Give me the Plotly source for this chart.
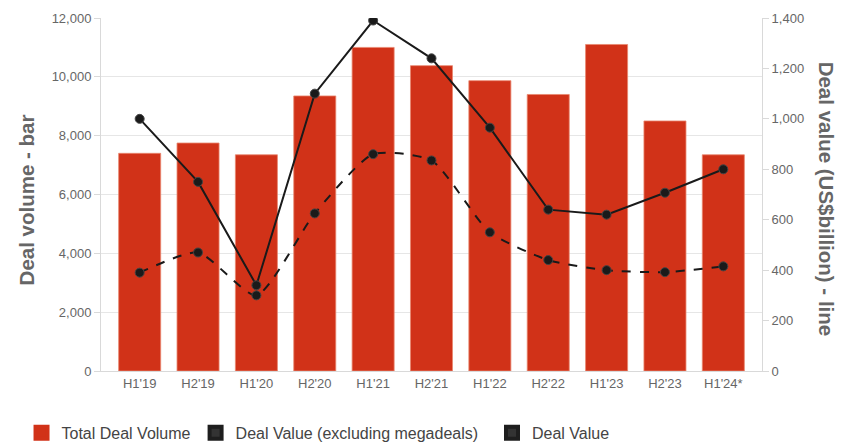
import plotly.graph_objects as go

# Half-year periods
periods = ["H1'19", "H2'19", "H1'20", "H2'20", "H1'21", "H2'21",
           "H1'22", "H2'22", "H1'23", "H2'23", "H1'24*"]

# Total deal volume (bars, left axis)
deal_volume = [7400, 7750, 7350, 9350, 11000, 10380, 9870, 9400, 11100, 8500, 7350]

# Deal value in US$ billion (lines, right axis)
deal_value = [1000, 750, 340, 1100, 1390, 1240, 965, 640, 620, 707, 800]
deal_value_ex_mega = [390, 470, 300, 625, 860, 835, 550, 440, 400, 392, 415]

red = "#d13218"
dark = "#1a1a1a"
grey = "#666666"

fig = go.Figure()

fig.add_bar(x=periods, y=deal_volume, name="Total Deal Volume",
            marker=dict(color=red, line=dict(color="#e8866f", width=0.8)),
            showlegend=False)

fig.add_scatter(x=periods, y=deal_value_ex_mega, yaxis="y2", mode="lines+markers",
                line=dict(color=dark, width=2, dash="dash", shape="spline", smoothing=0.6),
                marker=dict(color=dark, size=9, line=dict(color="#444444", width=1)),
                showlegend=False)

fig.add_scatter(x=periods, y=deal_value, yaxis="y2", mode="lines+markers",
                line=dict(color=dark, width=2),
                marker=dict(color=dark, size=9, line=dict(color="#444444", width=1)),
                showlegend=False)

# legend entries drawn as square patches
fig.add_bar(x=[periods[0]], y=[None], name="Total Deal Volume",
            marker=dict(color=red, line=dict(color=red, width=4)))
fig.add_bar(x=[periods[0]], y=[None], name="Deal Value (excluding megadeals)\u00a0\u00a0",
            marker=dict(color="#333333", line=dict(color="#1e1e1e", width=4)))
fig.add_bar(x=[periods[0]], y=[None], name="Deal Value",
            marker=dict(color="#333333", line=dict(color="#1e1e1e", width=4)))

# page body adds an 8px offset, so the figure is sized 8px smaller
fig.update_layout(
    width=856, height=439,
    margin=dict(l=93, r=102, t=10, b=76),
    paper_bgcolor="white", plot_bgcolor="white",
    font=dict(family="Liberation Sans, Arial, sans-serif", color=grey, size=13),
    barmode="overlay", bargap=0.28,
    xaxis=dict(showline=True, linecolor="#d9d9d9", linewidth=1, ticks="",
               automargin=False, tickfont=dict(size=13, color=grey)),
    yaxis=dict(range=[0, 12000], dtick=2000, tickformat=",", showgrid=True,
               gridcolor="#e6e6e6", showline=True, linecolor="#d9d9d9",
               ticks="outside", ticklen=6, tickcolor="#d9d9d9", zeroline=False,
               automargin=False, tickfont=dict(size=13, color=grey)),
    yaxis2=dict(range=[0, 1400], dtick=200, tickformat=",", overlaying="y",
                side="right", showgrid=False, showline=True, linecolor="#d9d9d9",
                ticks="outside", ticklen=6, tickcolor="#d9d9d9", zeroline=False,
                automargin=False, tickfont=dict(size=13, color=grey)),
    legend=dict(orientation="h", xref="container", yref="container",
                x=0.0158, xanchor="left", y=0.032, yanchor="middle",
                font=dict(size=16, color="#444444"), itemwidth=30,
                traceorder="normal"),
    annotations=[
        dict(text="<b>Deal volume - bar</b>", xref="paper", yref="paper",
             x=-0.1135, y=0.486, xanchor="center", yanchor="middle",
             textangle=-90, showarrow=False, font=dict(size=20.5, color=grey)),
        dict(text="<b>Deal value (US$billion) - line</b>", xref="paper", yref="paper",
             x=1.098, y=0.486, xanchor="center", yanchor="middle",
             textangle=90, showarrow=False, font=dict(size=20.5, color=grey)),
    ],
)

fig.write_html("out.html")
